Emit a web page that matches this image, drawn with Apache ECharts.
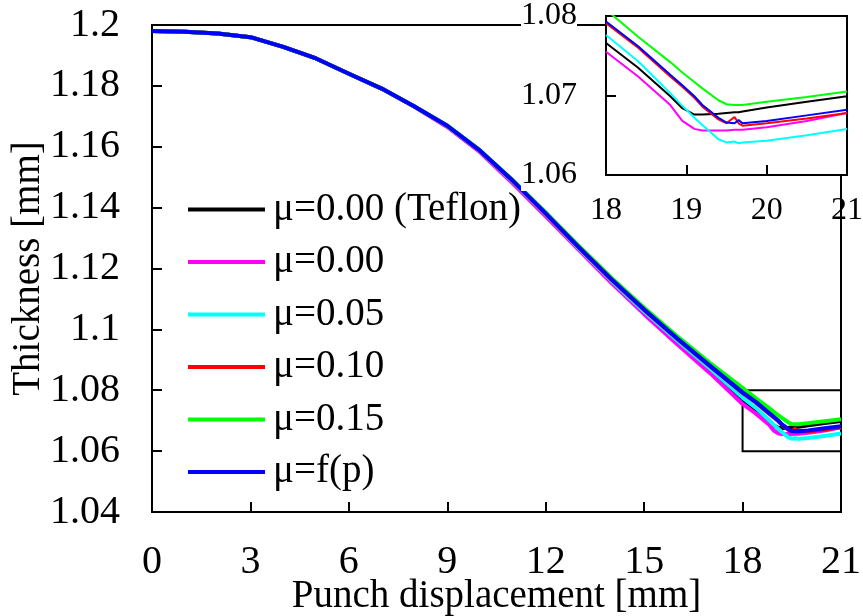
<!DOCTYPE html>
<html>
<head>
<meta charset="utf-8">
<script src="https://cdn.jsdelivr.net/npm/echarts@6/dist/echarts.min.js"></script>
<style>
html,body{margin:0;padding:0;background:#fff;}
#chart{width:863px;height:616px;}
</style>
</head>
<body>
<div id="chart"></div>
<script>
// Punch displacement [mm]
const xs = [0,1,2,3,4,5,6,7,8,9,10,11,12,13,14,15,16,17,
            18,18.4,18.8,18.95,19.1,19.2,19.4,19.5,19.6,19.65,19.7,20,20.5,21];

const seriesNames = ['μ=0.00 (Teflon)','μ=0.00','μ=0.05','μ=0.10','μ=0.15','μ=f(p)'];
const seriesColors = ['#000000','#ff00ff','#00ffff','#ff0000','#00ff00','#0000ff'];

// Thickness [mm]
const yTeflon = [1.1980,1.1978,1.1972,1.1960,1.1928,1.1890,1.1840,1.1791,1.1732,1.1667,1.1585,1.1484,1.1377,1.1266,1.1158,1.1056,1.0960,1.0866,
                 1.0766,1.0735,1.0699,1.0684,1.0676,1.0676,1.0677,1.0678,1.0679,1.0679,1.0680,1.0685,1.0692,1.0699];
const yMu000  = [1.1980,1.1978,1.1972,1.1960,1.1928,1.1890,1.1840,1.1791,1.1731,1.1665,1.1582,1.1479,1.1371,1.1262,1.1153,1.1050,1.0952,1.0857,
                 1.0755,1.0724,1.0688,1.0668,1.0658,1.0656,1.0656,1.0656,1.0657,1.0657,1.0657,1.0660,1.0668,1.0678];
const yMu005  = [1.1980,1.1978,1.1972,1.1960,1.1928,1.1890,1.1840,1.1791,1.1732,1.1668,1.1586,1.1485,1.1378,1.1267,1.1160,1.1059,1.0964,1.0872,
                 1.0776,1.0743,1.0703,1.0687,1.0672,1.0663,1.0645,1.0641,1.0642,1.0640,1.0641,1.0643,1.0650,1.0658];
const yMu010  = [1.1980,1.1978,1.1972,1.1960,1.1928,1.1890,1.1840,1.1791,1.1732,1.1669,1.1587,1.1487,1.1380,1.1270,1.1164,1.1064,1.0970,1.0880,
                 1.0791,1.0760,1.0724,1.0711,1.0697,1.0686,1.0670,1.0665,1.0673,1.0665,1.0662,1.0665,1.0671,1.0678];
const yMu015  = [1.1980,1.1978,1.1972,1.1960,1.1928,1.1890,1.1840,1.1791,1.1732,1.1670,1.1588,1.1490,1.1384,1.1275,1.1170,1.1071,1.0978,1.0890,
                 1.0808,1.0774,1.0742,1.0729,1.0717,1.0709,1.0694,1.0689,1.0688,1.0688,1.0688,1.0692,1.0698,1.0705];
const yMuFp   = [1.1980,1.1978,1.1972,1.1960,1.1928,1.1890,1.1840,1.1791,1.1732,1.1669,1.1587,1.1488,1.1381,1.1271,1.1165,1.1065,1.0971,1.0881,
                 1.0793,1.0762,1.0726,1.0713,1.0699,1.0688,1.0672,1.0666,1.0665,1.0669,1.0665,1.0668,1.0675,1.0682];

const allY = [yTeflon, yMu000, yMu005, yMu010, yMu015, yMuFp];

// zoomed region [xMin, xMax, yMin, yMax]
const zoomBox = [18, 21, 1.06, 1.08];

const FONT = 'Liberation Serif';

const chart = echarts.init(document.getElementById('chart'), null, {renderer:'canvas'});

const pairs = ys => xs.map((x,i)=>[x, ys[i]]);

const series = [];
allY.forEach((ys, k) => {
  const s = {
    name: seriesNames[k], type:'line', xAxisIndex:0, yAxisIndex:0,
    data: pairs(ys), symbol:'none', smooth:false,
    lineStyle:{color:seriesColors[k], width:4, join:'round'}, itemStyle:{color:seriesColors[k]}, z:2
  };
  if (k === 0) {
    s.markArea = {
      silent:true,
      itemStyle:{color:'rgba(0,0,0,0)', borderColor:'#000', borderWidth:2},
      data:[[{xAxis:zoomBox[0], yAxis:zoomBox[2]},{xAxis:zoomBox[1], yAxis:zoomBox[3]}]]
    };
  }
  series.push(s);
});
allY.forEach((ys, k) => {
  series.push({
    name: seriesNames[k], type:'line', xAxisIndex:1, yAxisIndex:1,
    data: pairs(ys).filter(p => p[0] >= zoomBox[0]), symbol:'none',
    lineStyle:{color:seriesColors[k], width:2}, itemStyle:{color:seriesColors[k]}, z:12, clip:true
  });
});

const axisCommon = {
  axisLine:{show:true, onZero:false, lineStyle:{color:'#000', width:2}},
  axisTick:{show:true, inside:true, length:10, lineStyle:{color:'#000', width:2}},
  splitLine:{show:false}
};

chart.setOption({
  animation:false,
  backgroundColor:'#fff',
  textStyle:{fontFamily:FONT},
  legend:{
    orient:'vertical', left:183, top:185, itemWidth:77, itemHeight:4, itemGap:13.5,
    icon:'rect', z:5,
    textStyle:{fontFamily:FONT, fontSize:39, color:'#000', padding:[0,0,0,3]},
    data: seriesNames
  },
  grid:[
    {left:152, right:22, top:25, bottom:104, show:true, borderColor:'#000', borderWidth:2,
     backgroundColor:'transparent', z:0, containLabel:false, outerBoundsMode:'none'},
    {left:606, top:16, width:241, height:159, show:true, borderColor:'#000', borderWidth:2,
     backgroundColor:'#fff', z:10, containLabel:false, outerBoundsMode:'none'}
  ],
  xAxis:[
    Object.assign({}, axisCommon, {
      type:'value', gridIndex:0, min:0, max:21, interval:3,
      name:'Punch displacement [mm]', nameLocation:'middle', nameGap:65, nameMoveOverlap:false,
      nameTextStyle:{fontFamily:FONT, fontSize:39, color:'#000'},
      axisLabel:{fontFamily:FONT, fontSize:40, color:'#000', margin:30}
    }),
    Object.assign({}, axisCommon, {
      type:'value', gridIndex:1, min:zoomBox[0], max:zoomBox[1], interval:1, z:12,
      axisLabel:{fontFamily:FONT, fontSize:32, color:'#000', margin:20}
    })
  ],
  yAxis:[
    Object.assign({}, axisCommon, {
      type:'value', gridIndex:0, min:1.04, max:1.2, interval:0.02,
      name:'Thickness [mm]', nameLocation:'middle', nameGap:104, nameRotate:90, nameMoveOverlap:false,
      nameTextStyle:{fontFamily:FONT, fontSize:39, color:'#000'},
      axisLabel:{fontFamily:FONT, fontSize:40, color:'#000', margin:32,
        formatter: v => String(+v.toFixed(2))}
    }),
    Object.assign({}, axisCommon, {
      type:'value', gridIndex:1, min:zoomBox[2], max:zoomBox[3], interval:0.01, z:12,
      axisLabel:{fontFamily:FONT, fontSize:32, color:'#000', margin:29,
        backgroundColor:'#fff', formatter: v => (+v).toFixed(2)}
    })
  ],
  series: series
});
</script>
</body>
</html>
